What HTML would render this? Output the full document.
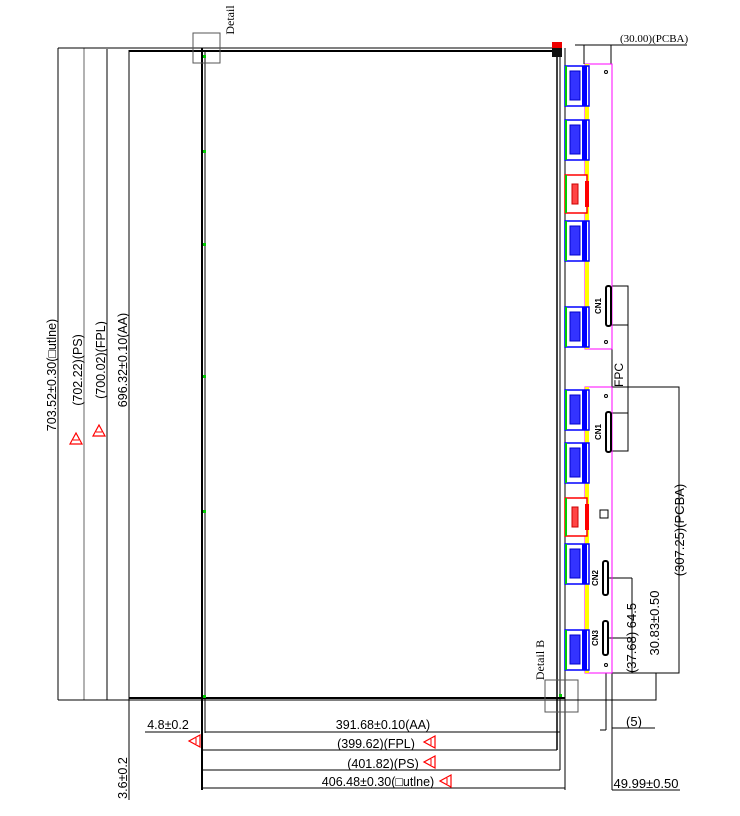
<!DOCTYPE html>
<html><head><meta charset="utf-8"><style>
html,body{margin:0;padding:0;background:#fff;width:740px;height:816px;overflow:hidden}
svg{display:block}
text{font-family:"Liberation Sans",sans-serif;font-size:12px;fill:#000}
</style></head><body>
<svg width="740" height="816" viewBox="0 0 740 816" xmlns="http://www.w3.org/2000/svg">
<defs>
<g id="tri"><polygon points="0,-1 -11,5 0,11" fill="none" stroke="#f00" stroke-width="1.2"/><line x1="-4" y1="2" x2="-4" y2="8" stroke="#f00"/></g>
<g id="tri2"><polygon points="-6,0 0,-11 6,0" fill="none" stroke="#f00" stroke-width="1.2"/><line x1="-3" y1="-4" x2="3" y2="-4" stroke="#f00"/></g>
<g id="blu"><rect x="0" y="0" width="24" height="40" fill="#fff" stroke="#00f" stroke-width="1.5"/><rect x="0" y="0" width="2" height="40" fill="#0c0"/><rect x="17" y="0" width="5" height="40" fill="#00f"/><rect x="5" y="5" width="10" height="29" fill="#33f" stroke="#00c"/></g>
<g id="red"><rect x="0" y="0" width="22" height="38" fill="#fff" stroke="#f00" stroke-width="1.5"/><rect x="0" y="0" width="2" height="38" fill="#0c0"/><rect x="20" y="6" width="4" height="26" fill="#f00"/><rect x="7" y="9" width="6" height="20" fill="#f44" stroke="#c00"/></g>
</defs>
<g stroke="#000" fill="none" stroke-width="1">
<line x1="58" y1="48" x2="58" y2="700"/>
<line x1="84" y1="48" x2="84" y2="700" stroke="#666"/>
<line x1="107" y1="49" x2="107" y2="700"/>
<line x1="129" y1="50" x2="129" y2="800"/>
<line x1="58" y1="48" x2="560" y2="48"/>
<line x1="129" y1="51" x2="560" y2="51" stroke-width="2"/>
<line x1="58" y1="700" x2="565" y2="700"/>
<line x1="129" y1="698" x2="565" y2="698" stroke-width="2"/>
<line x1="202" y1="48" x2="202" y2="790" stroke-width="2"/>
<line x1="205" y1="52" x2="205" y2="733"/>
<line x1="557" y1="48" x2="557" y2="750" stroke-width="1.5"/>
<line x1="560" y1="48" x2="560" y2="770"/>
<line x1="565" y1="48" x2="565" y2="790"/>
<rect x="193" y="33" width="27" height="30" stroke="#555"/>
<rect x="545" y="680" width="33" height="32" stroke="#555"/>
<line x1="145" y1="732" x2="200" y2="732"/>
<line x1="205" y1="732" x2="560" y2="732"/>
<line x1="202" y1="750" x2="557" y2="750"/>
<line x1="202" y1="770" x2="560" y2="770"/>
<line x1="202" y1="788" x2="565" y2="788"/>
<line x1="575" y1="45" x2="687" y2="45"/>
<line x1="584" y1="45" x2="584" y2="64"/>
<line x1="611" y1="45" x2="611" y2="64"/>
<rect x="612" y="286" width="16" height="39"/>
<rect x="612" y="413" width="16" height="38"/>
<line x1="612" y1="325" x2="612" y2="413"/>
<line x1="628" y1="325" x2="628" y2="413"/>
<polyline points="612,387 679,387 679,673 612,673"/>
<line x1="606" y1="578" x2="632" y2="578"/>
<line x1="632" y1="578" x2="632" y2="673"/>
<line x1="606" y1="638" x2="632" y2="638"/>
<polyline points="565,700 656,700 656,673"/>
<line x1="606" y1="673" x2="606" y2="730"/>
<line x1="612" y1="673" x2="612" y2="790"/>
<line x1="600" y1="730" x2="606" y2="730"/>
<line x1="612" y1="728" x2="655" y2="728"/>
<line x1="612" y1="790" x2="680" y2="790"/>
</g>
<rect x="552" y="42" width="10" height="6" fill="#e00"/>
<rect x="552" y="48" width="10" height="9" fill="#111"/>
<g fill="#0c0"><rect x="203" y="55" width="3" height="3"/><rect x="203" y="150" width="3" height="3"/><rect x="203" y="243" width="3" height="3"/><rect x="203" y="375" width="3" height="3"/><rect x="203" y="510" width="3" height="3"/><rect x="203" y="695" width="3" height="3"/><rect x="559" y="694" width="3" height="3"/></g>
<rect x="585" y="64" width="27" height="285" fill="none" stroke="#f0f"/>
<rect x="585" y="387" width="27" height="286" fill="none" stroke="#f0f"/>
<rect x="585" y="64" width="4" height="285" fill="#ff0"/>
<rect x="585" y="387" width="4" height="286" fill="#ff0"/>
<use href="#blu" x="565" y="66"/>
<use href="#blu" x="565" y="120"/>
<use href="#red" x="565" y="175"/>
<use href="#blu" x="565" y="221"/>
<use href="#blu" x="565" y="307"/>
<use href="#blu" x="565" y="390"/>
<use href="#blu" x="565" y="443"/>
<use href="#red" x="565" y="498"/>
<use href="#blu" x="565" y="544"/>
<use href="#blu" x="565" y="630"/>
<g fill="#fff" stroke="#000" stroke-width="2">
<rect x="606" y="286" width="5" height="40" rx="2"/>
<rect x="606" y="412" width="5" height="40" rx="2"/>
<rect x="603" y="561" width="5" height="34" rx="2"/>
<rect x="603" y="621" width="5" height="34" rx="2"/>
</g>
<rect x="600" y="510" width="8" height="8" fill="none" stroke="#000"/>
<g fill="none" stroke="#000"><circle cx="606" cy="72" r="1.5"/><circle cx="606" cy="342" r="1.5"/><circle cx="606" cy="396" r="1.5"/><circle cx="606" cy="665" r="1.5"/></g>
<text transform="translate(601,306) rotate(-90)" text-anchor="middle" style="font-size:8px;font-weight:bold">CN1</text>
<text transform="translate(601,432) rotate(-90)" text-anchor="middle" style="font-size:8px;font-weight:bold">CN1</text>
<text transform="translate(598,578) rotate(-90)" text-anchor="middle" style="font-size:8px;font-weight:bold">CN2</text>
<text transform="translate(598,638) rotate(-90)" text-anchor="middle" style="font-size:8px;font-weight:bold">CN3</text>
<text x="620" y="42" style="font-family:'Liberation Serif',serif;font-size:11px">(30.00)(PCBA)</text>
<text transform="translate(623,375) rotate(-90)" text-anchor="middle">FPC</text>
<text transform="translate(234,20) rotate(-90)" text-anchor="middle" style="font-family:'Liberation Serif',serif;font-size:12px">Detail</text>
<text transform="translate(544,660) rotate(-90)" text-anchor="middle" style="font-family:'Liberation Serif',serif;font-size:12px">Detail B</text>
<text transform="translate(684,530) rotate(-90)" text-anchor="middle" style="font-size:13px">(307.25)(PCBA)</text>
<text transform="translate(659,623) rotate(-90)" text-anchor="middle" style="font-size:13px">30.83±0.50</text>
<text transform="translate(636,638) rotate(-90)" text-anchor="middle" style="font-size:13px">(37.68)  64.5</text>
<text x="634" y="726" text-anchor="middle" style="font-size:13px">(5)</text>
<text x="646" y="788" text-anchor="middle" style="font-size:13px">49.99±0.50</text>
<text transform="translate(56,375) rotate(-90)" text-anchor="middle" style="font-size:12.5px">703.52±0.30(□utlne)</text>
<text transform="translate(82,370) rotate(-90)" text-anchor="middle" style="font-size:12.5px">(702.22)(PS)</text>
<text transform="translate(105,360) rotate(-90)" text-anchor="middle" style="font-size:12.5px">(700.02)(FPL)</text>
<text transform="translate(127,360) rotate(-90)" text-anchor="middle" style="font-size:12.5px">696.32±0.10(AA)</text>
<use href="#tri2" x="76" y="444"/>
<use href="#tri2" x="99" y="436"/>
<text transform="translate(127,778) rotate(-90)" text-anchor="middle" style="font-size:12.5px">3.6±0.2</text>
<text x="168" y="729" text-anchor="middle" style="font-size:12.5px">4.8±0.2</text>
<text x="383" y="729" text-anchor="middle" style="font-size:12.5px">391.68±0.10(AA)</text>
<text x="376" y="748" text-anchor="middle" style="font-size:12.5px">(399.62)(FPL)</text>
<text x="383" y="768" text-anchor="middle" style="font-size:12.5px">(401.82)(PS)</text>
<text x="378" y="786" text-anchor="middle" style="font-size:12.5px">406.48±0.30(□utlne)</text>
<use href="#tri" x="200" y="736"/>
<use href="#tri" x="435" y="737"/>
<use href="#tri" x="435" y="757"/>
<use href="#tri" x="451" y="776"/>
</svg>
</body></html>
